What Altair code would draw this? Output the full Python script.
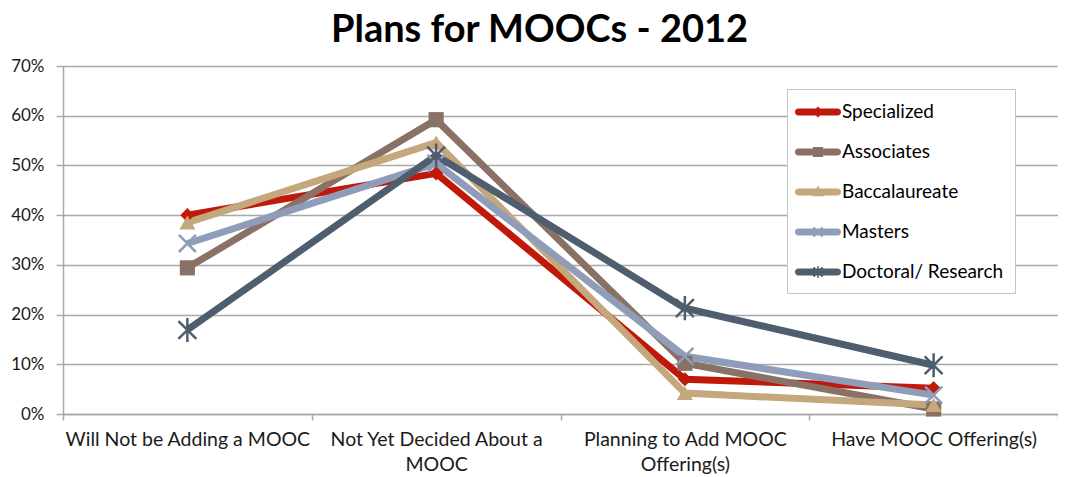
import altair as alt
import pandas as pd

categories = [
    "Will Not be Adding a MOOC",
    "Not Yet Decided About a MOOC",
    "Planning to Add MOOC Offering(s)",
    "Have MOOC Offering(s)",
]
label_breaks = {
    "Not Yet Decided About a MOOC": ["Not Yet Decided About a", "MOOC"],
    "Planning to Add MOOC Offering(s)": ["Planning to Add MOOC", "Offering(s)"],
}
series = ["Specialized", "Associates", "Baccalaureate", "Masters", "Doctoral/ Research"]
specialized = [0.400, 0.484, 0.070, 0.052]
associates = [0.294, 0.592, 0.102, 0.010]
baccalaureate = [0.385, 0.546, 0.042, 0.018]
masters = [0.343, 0.504, 0.116, 0.038]
doctoral = [0.169, 0.520, 0.213, 0.098]
colors = ["#C0190A", "#8A7165", "#C4A77C", "#8F9DB9", "#4E5E6E"]
y_ticks = [0, 0.1, 0.2, 0.3, 0.4, 0.5, 0.6, 0.7]

values = [specialized, associates, baccalaureate, masters, doctoral]
rows = []
for s, vals in zip(series, values):
    for c, v in zip(categories, vals):
        rows.append({"category": c, "series": s, "value": v})
df = pd.DataFrame(rows)

FONT = "Lato"

X_PATH = "M-1,-1L1,1M-1,1L1,-1"
AST_PATH = "M-1,-1L1,1M-1,1L1,-1M0,-1.35L0,1.35"
marker_shapes = ["diamond", "square", "triangle-up", X_PATH, AST_PATH]
marker_sizes = [200, 320, 350, 280, 320]

# legend symbols: rounded bar + marker (units: half of sqrt(symbolSize))
BAR = "M-1.63,-0.29L1.63,-0.29A0.29,0.29 0 0 1 1.63,0.29L-1.63,0.29A0.29,0.29 0 0 1 -1.63,-0.29Z"
def xrects(a, e):
    r1 = f"M{-a+e},{-a-e}L{a+e},{a-e}L{a-e},{a+e}L{-a-e},{-a+e}Z"
    r2 = f"M{-a+e},{a+e}L{-a-e},{a-e}L{a-e},{-a-e}L{a+e},{-a+e}Z"
    return r1 + r2
leg_shapes = [
    BAR + "M0,-0.45L0.45,0L0,0.45L-0.45,0Z",
    BAR + "M-0.42,-0.42L0.42,-0.42L0.42,0.42L-0.42,0.42Z",
    BAR + "M0,-0.55L0.5,0.35L-0.5,0.35Z",
    BAR + xrects(0.38, 0.06),
    BAR + xrects(0.38, 0.06) + "M-0.06,-0.5L0.06,-0.5L0.06,0.5L-0.06,0.5Z",
]

label_expr = ""
for k, parts in label_breaks.items():
    arr = "[" + ", ".join("'" + p + "'" for p in parts) + "]"
    label_expr += f"datum.value == '{k}' ? {arr} : "
label_expr += "datum.label"

GRID = "#a9a9a9"
TEXT = "#1a1a1a"

x_enc = alt.X(
    "category:N",
    sort=categories,
    scale=alt.Scale(domain=categories, paddingInner=0, paddingOuter=0),
    axis=alt.Axis(
        title=None, labelAngle=0, labelExpr=label_expr, labelFont=FONT,
        labelFontSize=19.5, labelColor=TEXT, labelLimit=400, labelPadding=10,
        labelLineHeight=25, tickBand="extent", tickSize=6, tickColor=GRID,
        tickWidth=1.5, domainColor=GRID, domainWidth=1.5, grid=False,
    ),
)
y_enc = alt.Y(
    "value:Q",
    scale=alt.Scale(domain=[0, 0.7], nice=False),
    axis=alt.Axis(
        title=None, values=y_ticks, format=".0%", labelFont=FONT,
        labelFontSize=17, labelColor=TEXT, labelPadding=12, tickSize=7,
        tickColor=GRID, tickWidth=1.5, domainColor=GRID, domainWidth=1.5,
        gridColor=GRID, gridWidth=1.5,
    ),
)
color_scale = alt.Scale(domain=series, range=colors)

lines = alt.Chart(df).mark_line(strokeWidth=7, strokeJoin="miter").encode(
    x=x_enc, y=y_enc,
    color=alt.Color("series:N", scale=color_scale, legend=None),
)

filled_pts = alt.Chart(df).mark_point(filled=True, opacity=1).encode(
    x=x_enc, y=y_enc,
    color=alt.Color("series:N", scale=color_scale, legend=None),
    shape=alt.Shape("series:N", scale=alt.Scale(domain=series, range=marker_shapes), legend=None),
    size=alt.Size("series:N", scale=alt.Scale(domain=series, range=marker_sizes), legend=None),
).transform_filter(alt.FieldOneOfPredicate(field="series", oneOf=series[:3]))

stroke_pts = alt.Chart(df).mark_point(filled=False, opacity=1, strokeWidth=2.5).encode(
    x=x_enc, y=y_enc,
    color=alt.Color("series:N", scale=color_scale, legend=None),
    shape=alt.Shape("series:N", scale=alt.Scale(domain=series, range=marker_shapes), legend=None),
    size=alt.Size("series:N", scale=alt.Scale(domain=series, range=marker_sizes), legend=None),
).transform_filter(alt.FieldOneOfPredicate(field="series", oneOf=series[3:]))

leg_props = dict(
    title=None, orient="none", legendX=724, legendY=23, fillColor="white",
    strokeColor="#c4c4c4", padding=11, symbolOffset=8, labelOffset=12,
    rowPadding=18, symbolSize=576, symbolStrokeWidth=0, symbolOpacity=1,
    labelFont=FONT, labelFontSize=19, labelColor="black", labelLimit=400,
)
legend_layer = alt.Chart(df).mark_point(filled=True, opacity=1).encode(
    x=x_enc, y=y_enc,
    color=alt.Color("series:N", scale=color_scale, legend=alt.Legend(**leg_props)),
    shape=alt.Shape("series:N", scale=alt.Scale(domain=series, range=leg_shapes), legend=alt.Legend(**leg_props)),
).transform_filter("false")

chart = alt.layer(lines, filled_pts, stroke_pts, legend_layer).resolve_scale(
    shape="independent", size="independent"
).resolve_legend(
    color="independent", shape="independent"
).properties(
    width=995, height=348,
    autosize=alt.AutoSizeParams(type="none"),
    padding={"left": 55, "top": 58, "right": 0, "bottom": 62},
    title=alt.TitleParams(
        "Plans for MOOCs - 2012", font=FONT, fontSize=38, fontWeight="bold",
        color="black", anchor="middle", offset=7, dx=-21,
    ),
).configure_view(strokeWidth=0).configure(background="white")

chart.save("out.html", embed_options={"renderer": "svg", "actions": False})
